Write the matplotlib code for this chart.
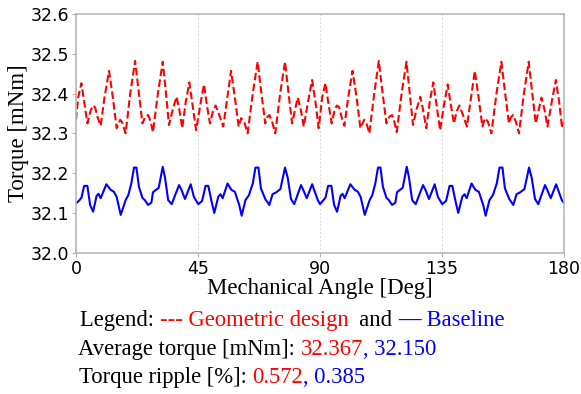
import numpy as np
import matplotlib
matplotlib.use('Agg')
import matplotlib.pyplot as plt

# Geometric design (red dashed)
angle_geo = [0.0, 0.8, 2.0, 3.0, 4.2, 5.3, 6.2, 7.0, 8.0, 9.1, 10.5, 12.2, 13.6, 15.0, 16.3, 17.0,
             18.3, 20.0, 21.8, 23.2, 24.5, 25.6, 26.6, 27.5, 28.4, 30.2, 32.0, 33.2, 34.3, 35.7,
             37.1, 38.1, 39.2, 40.5, 41.8, 43.0, 44.3, 45.8, 47.2, 48.3, 49.4, 50.5, 51.5, 52.9,
             54.3, 55.8, 57.2, 58.6, 60.0, 60.9, 62.0, 63.3, 65.2, 67.0, 68.4, 69.8, 70.5, 71.3,
             72.3, 73.5, 75.3, 77.1, 78.4, 79.7, 80.8, 81.8, 82.9, 84.0, 85.6, 87.1, 88.3, 89.5,
             90.8, 92.0, 93.0, 94.3, 95.3, 96.2, 97.0, 98.0, 99.0, 100.4, 102.0, 103.5, 104.9,
             106.3, 107.0, 108.2, 110.0, 111.7, 113.1, 114.5, 115.6, 116.6, 117.4, 118.3, 120.1,
             121.9, 123.1, 124.3, 125.6, 127.0, 128.0, 129.2, 130.5, 131.8, 133.0, 134.3, 135.7,
             137.1, 138.3, 139.4, 140.4, 141.4, 142.8, 144.2, 145.7, 147.1, 148.5, 149.9, 150.8,
             151.9, 153.2, 155.1, 156.9, 158.3, 159.7, 160.4, 161.2, 162.2, 163.4, 165.2, 167.0,
             168.3, 169.6, 170.7, 171.7, 172.8, 173.9, 175.5, 177.0, 178.2, 179.3, 180.0]
torque_geo = [32.334, 32.39, 32.426, 32.38, 32.325, 32.355, 32.370, 32.366, 32.34, 32.319, 32.39,
              32.457, 32.39, 32.313, 32.334, 32.328, 32.300, 32.40, 32.482, 32.40, 32.325, 32.342,
              32.346, 32.33, 32.303, 32.40, 32.480, 32.40, 32.321, 32.36, 32.392, 32.36, 32.313,
              32.38, 32.428, 32.37, 32.308, 32.37, 32.423, 32.37, 32.325, 32.355, 32.370, 32.345,
              32.317, 32.39, 32.457, 32.39, 32.317, 32.338, 32.33, 32.300, 32.40, 32.480, 32.40,
              32.325, 32.34, 32.346, 32.33, 32.300, 32.40, 32.480, 32.40, 32.325, 32.36, 32.390,
              32.36, 32.317, 32.38, 32.434, 32.38, 32.313,
              32.39, 32.426, 32.38, 32.325, 32.355, 32.370, 32.366, 32.34, 32.319, 32.39, 32.457,
              32.39, 32.313, 32.334, 32.328, 32.300, 32.40, 32.482, 32.40, 32.325, 32.342, 32.346,
              32.33, 32.303, 32.40, 32.480, 32.40, 32.321, 32.36, 32.392, 32.36, 32.313, 32.38,
              32.428, 32.37, 32.308, 32.37, 32.423, 32.37, 32.325, 32.355, 32.370, 32.345, 32.317,
              32.39, 32.457, 32.39, 32.317, 32.338, 32.33, 32.300, 32.40, 32.480, 32.40, 32.325,
              32.34, 32.346, 32.33, 32.300, 32.40, 32.480, 32.40, 32.325, 32.36, 32.390, 32.36,
              32.317, 32.38, 32.434, 32.38, 32.313, 32.33]

# Baseline (blue solid)
angle_base = [0.0, 1.0, 2.0, 3.0, 4.2, 5.2, 6.3, 7.6, 8.3, 9.1, 11.2, 12.8, 14.0, 15.0, 16.5, 18.3,
              19.3, 20.4, 21.4, 22.3, 23.2, 24.5, 25.4, 26.6, 27.8, 28.4, 29.5, 30.5, 32.0, 32.8,
              34.0, 35.3, 38.0, 38.9, 40.2, 42.3, 43.5, 45.1, 46.5, 47.8, 48.8, 50.0, 51.0, 52.5,
              53.3, 54.1, 55.9, 57.3, 58.6, 60.2, 61.1, 62.5, 63.8, 65.2, 66.2, 67.3, 68.2, 69.8,
              71.3, 72.5, 73.9, 75.4, 77.1, 78.1, 79.3, 80.5, 83.0, 84.0, 85.1, 87.1, 89.2, 90.0,
              91.0, 92.0, 93.0, 94.2, 95.2, 96.3, 97.6, 98.3, 99.1, 101.2, 102.8, 104.0, 105.0,
              106.5, 108.3, 109.3, 110.4, 111.4, 112.3, 113.2, 114.5, 115.4, 116.6, 117.8, 118.4,
              119.5, 120.5, 122.0, 122.8, 124.0, 125.3, 128.0, 128.9, 130.2, 132.3, 133.5, 135.1,
              136.5, 137.8, 138.8, 140.0, 141.0, 142.5, 143.3, 144.1, 145.9, 147.3, 148.6, 150.2,
              151.1, 152.5, 153.8, 155.2, 156.2, 157.3, 158.2, 159.8, 161.3, 162.5, 163.9, 165.4,
              167.1, 168.1, 169.3, 170.5, 173.0, 174.0, 175.1, 177.1, 179.2, 180.0]
torque_base = [32.124, 32.130, 32.138, 32.168, 32.168, 32.120, 32.103, 32.143, 32.148, 32.137,
               32.172, 32.158, 32.153, 32.14, 32.095, 32.132, 32.145, 32.174, 32.214, 32.214,
               32.166, 32.138, 32.132, 32.120, 32.126, 32.152, 32.158, 32.163, 32.216, 32.19,
               32.132, 32.122, 32.170, 32.158, 32.135, 32.172, 32.14, 32.122, 32.13, 32.168,
               32.168, 32.129, 32.100, 32.141, 32.147, 32.137, 32.174, 32.158, 32.153, 32.120,
               32.093, 32.132, 32.145, 32.174, 32.214, 32.214, 32.162, 32.135, 32.120, 32.147,
               32.152, 32.160, 32.214, 32.188, 32.135, 32.122, 32.170, 32.155, 32.137, 32.172,
               32.132, 32.122,
               32.130, 32.138, 32.168, 32.168, 32.120, 32.103, 32.143, 32.148, 32.137, 32.172,
               32.158, 32.153, 32.14, 32.095, 32.132, 32.145, 32.174, 32.214, 32.214, 32.166,
               32.138, 32.132, 32.120, 32.126, 32.152, 32.158, 32.163, 32.216, 32.19, 32.132,
               32.122, 32.170, 32.158, 32.135, 32.172, 32.14, 32.122, 32.13, 32.168, 32.168,
               32.129, 32.100, 32.141, 32.147, 32.137, 32.174, 32.158, 32.153, 32.120, 32.093,
               32.132, 32.145, 32.174, 32.214, 32.214, 32.162, 32.135, 32.120, 32.147, 32.152,
               32.160, 32.214, 32.188, 32.135, 32.122, 32.170, 32.155, 32.137, 32.172, 32.132,
               32.125]

x_ticks = [0, 45, 90, 135, 180]
y_ticks = [32.0, 32.1, 32.2, 32.3, 32.4, 32.5, 32.6]
avg_torque = ['32.367', '32.150']
ripple = ['0.572', '0.385']

RED = '#ff0000'
BLUE = '#0000ff'
serif = 'Liberation Serif'

W, H = 581, 394
fig = plt.figure(figsize=(W / 100, H / 100), dpi=100)
ax = fig.add_axes([76 / W, 1 - 252.7 / H, (564 - 76) / W, (252.7 - 14) / H])

ax.plot(angle_geo, torque_geo, color=RED, lw=1.5, ls=(0, (3.6, 1.6)))
ax.plot(angle_base, torque_base, color=BLUE, lw=1.5)

ax.set_xlim(0, 180)
ax.set_ylim(32.0, 32.6)
ax.set_xticks(x_ticks)
ax.set_yticks(y_ticks)
ax.set_yticklabels([f'{v:.1f}' for v in y_ticks])
ax.tick_params(labelsize=12.5, color='#b0b0b0', length=3, pad=2)
ax.grid(axis='x', color='#d8d8d8', ls=(0, (2, 2)), lw=0.7)
for s in ax.spines.values():
    s.set_color('#b8b8b8')
    s.set_linewidth(1.2)

ax.set_xlabel('Mechanical Angle [Deg]', family=serif, fontsize=16.5, labelpad=0)
ax.set_ylabel('Torque [mNm]', family=serif, fontsize=16.5, labelpad=1)

fig.canvas.draw()
renderer = fig.canvas.get_renderer()


def colored_line(x_px, base_px, parts, size=16.3):
    # place text pieces one after another on the same baseline
    x = x_px
    for txt, col, wt in parts:
        t = fig.text(x / W, 1 - base_px / H, txt, color=col, family=serif,
                     fontsize=size, va='baseline', ha='left', weight=wt)
        bb = t.get_window_extent(renderer=renderer)
        x += bb.width


colored_line(80, 326, [('Legend: ', 'black', 'normal'), ('--- Geometric design', RED, 'normal'),
                       ('  and ', 'black', 'normal'), ('\u2014', BLUE, 'bold'),
                       (' Baseline', BLUE, 'normal')])
colored_line(78, 355, [('Average torque [mNm]: ', 'black', 'normal'), (avg_torque[0], RED, 'normal'),
                       (', ' + avg_torque[1], BLUE, 'normal')])
colored_line(79, 383, [('Torque ripple [%]: ', 'black', 'normal'), (ripple[0], RED, 'normal'),
                       (', ' + ripple[1], BLUE, 'normal')])

fig.savefig('out.png', dpi=100)
